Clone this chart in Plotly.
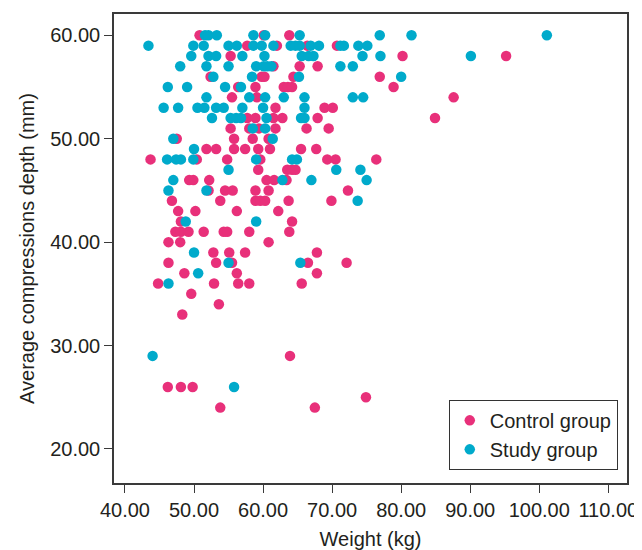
import plotly.graph_objects as go

# Control group (pink)
control_weight = [
    50.8, 60.1, 63.8,
    57.7, 62.0, 66.4, 70.7,
    55.3, 80.2, 95.2,
    61.5, 65.3, 67.9,
    52.4, 59.8, 60.2, 64.4, 76.9,
    56.4, 58.9, 63.0, 63.6, 64.2, 78.9,
    55.5, 59.1, 87.6,
    61.8, 68.9, 70.1,
    57.7, 58.9, 61.5, 62.8, 67.9, 84.9,
    55.3, 58.0, 59.4, 61.8, 66.3, 69.5,
    47.5, 55.8, 58.5, 60.8,
    51.8, 53.2, 55.8, 57.4, 59.3, 61.0, 65.5, 67.7,
    43.7, 50.4, 54.8, 59.6, 69.3, 70.5, 76.4,
    59.3, 63.5, 64.2, 64.7,
    49.3, 49.9, 52.2, 60.5, 61.6, 63.4,
    52.1, 54.5, 55.6, 58.9, 60.8, 72.3,
    46.8, 53.8, 58.9, 59.6, 60.3, 63.7, 69.9,
    47.7, 50.2, 56.2, 62.2,
    48.1, 64.2,
    47.3, 48.1, 49.2, 51.4, 54.3, 54.8, 58.0, 63.8,
    46.3, 48.0, 60.8,
    52.8, 55.1, 57.4, 67.8,
    46.3, 53.2, 55.5, 66.5, 72.1,
    48.6, 56.2, 67.8,
    44.8, 52.9, 56.4, 58.0, 65.6,
    49.6, 53.6, 48.3, 63.9,
    46.2, 48.1, 49.8,
    74.9, 53.8, 67.5,
]
control_depth = [
    60, 60, 60,
    59, 59, 59, 59,
    58, 58, 58,
    57, 57, 57,
    56, 56, 56, 56, 56,
    55, 55, 55, 55, 55, 55,
    54, 54, 54,
    53, 53, 53,
    52, 52, 52, 52, 52, 52,
    51, 51, 51, 51, 51, 51,
    50, 50, 50, 50,
    49, 49, 49, 49, 49, 49, 49, 49,
    48, 48, 48, 48, 48, 48, 48,
    47, 47, 47, 47,
    46, 46, 46, 46, 46, 46,
    45, 45, 45, 45, 45, 45,
    44, 44, 44, 44, 44, 44, 44,
    43, 43, 43, 43,
    42, 42,
    41, 41, 41, 41, 41, 41, 41, 41,
    40, 40, 40,
    39, 39, 39, 39,
    38, 38, 38, 38, 38,
    37, 37, 37,
    36, 36, 36, 36, 36,
    35, 34, 33, 29,
    26, 26, 26,
    25, 24, 24,
]

# Study group (cyan)
study_weight = [
    51.6, 52.1, 53.3, 58.6, 60.3, 65.3, 76.9, 81.5, 101.1,
    43.4, 49.9, 51.4, 55.0, 56.2, 58.6, 59.8, 61.5, 64.0, 64.7, 65.3, 66.9, 68.1, 71.2, 71.7, 73.8, 75.1,
    49.6, 52.1, 53.2, 57.0, 60.2, 65.6, 66.6, 67.3, 74.4, 77.0, 90.1,
    48.0, 51.8, 55.0, 59.0, 60.1, 60.6, 61.2, 71.2, 73.0,
    52.8, 58.4, 65.2, 80.0,
    46.2, 49.0, 54.5, 56.8,
    51.8, 58.0, 60.3, 63.0, 66.0, 73.0, 74.5,
    45.6, 47.7, 50.5, 51.5, 53.2, 54.3, 57.0, 60.0, 66.0,
    52.6, 55.3, 56.1, 56.8, 60.5, 65.5, 66.0,
    58.5, 60.3,
    47.0, 61.4,
    50.0,
    46.1, 47.4, 48.1, 49.9, 59.0, 64.2, 64.9,
    55.0, 70.6, 74.1,
    47.0, 62.8, 67.0, 75.0,
    46.3, 51.8,
    73.7,
    48.8, 59.0,
    50.0,
    55.0, 65.4,
    50.6,
    46.3,
    44.0,
    55.8,
]
study_depth = [
    60, 60, 60, 60, 60, 60, 60, 60, 60,
    59, 59, 59, 59, 59, 59, 59, 59, 59, 59, 59, 59, 59, 59, 59, 59, 59,
    58, 58, 58, 58, 58, 58, 58, 58, 58, 58, 58,
    57, 57, 57, 57, 57, 57, 57, 57, 57,
    56, 56, 56, 56,
    55, 55, 55, 55,
    54, 54, 54, 54, 54, 54, 54,
    53, 53, 53, 53, 53, 53, 53, 53, 53,
    52, 52, 52, 52, 52, 52, 52,
    51, 51,
    50, 50,
    49,
    48, 48, 48, 48, 48, 48, 48,
    47, 47, 47,
    46, 46, 46, 46,
    45, 45,
    44,
    42, 42,
    39,
    38, 38,
    37,
    36,
    29,
    26,
]

x_ticks = [40, 50, 60, 70, 80, 90, 100, 110]
x_tick_labels = ["40.00", "50.00", "60.00", "70.00", "80.00", "90.00", "100.00", "110.00"]
y_ticks = [20, 30, 40, 50, 60]
y_tick_labels = ["20.00", "30.00", "40.00", "50.00", "60.00"]

PINK = "#e8307a"
CYAN = "#00aacb"
TEXT = "#231f20"
LINE = "#3a3a3a"
FONT = "Liberation Sans, Arial, sans-serif"

fig = go.Figure()
fig.add_trace(go.Scatter(
    x=control_weight, y=control_depth, mode="markers", name="Control group",
    marker=dict(color=PINK, size=10.5, line=dict(width=0)),
))
fig.add_trace(go.Scatter(
    x=study_weight, y=study_depth, mode="markers", name="Study group",
    marker=dict(color=CYAN, size=10.5, line=dict(width=0)),
))

axis_common = dict(
    showgrid=False, zeroline=False, showline=True, linecolor=LINE, linewidth=1.5,
    mirror=True, ticks="outside", ticklen=8, tickwidth=1.2, tickcolor=LINE,
    tickfont=dict(family=FONT, size=20, color=TEXT), automargin=False,
)

# The page body has an 8 px default margin, so the figure is sized to fill the
# remaining 634 x 542 area of the 642 x 550 window.
fig.update_layout(
    template="none",
    width=634, height=542,
    margin=dict(l=106, r=15, t=6, b=67),
    paper_bgcolor="white", plot_bgcolor="white",
    font=dict(family=FONT, color=TEXT, size=20),
    showlegend=True,
    legend=dict(
        x=0.982, y=0.028, xanchor="right", yanchor="bottom",
        bordercolor="#333333", borderwidth=1, bgcolor="white",
        font=dict(family=FONT, size=20, color=TEXT),
        itemwidth=30, tracegroupgap=0,
    ),
    xaxis=dict(
        range=[38.41, 112.71], tickvals=x_ticks, ticktext=x_tick_labels,
        title=dict(text="Weight (kg)", font=dict(family=FONT, size=20, color=TEXT), standoff=12),
        **axis_common,
    ),
    yaxis=dict(
        range=[16.71, 62.06], tickvals=y_ticks, ticktext=y_tick_labels,
        title=dict(text="Average compressions depth (mm)", font=dict(family=FONT, size=20, color=TEXT), standoff=10),
        **axis_common,
    ),
)

fig.write_html("out.html")
